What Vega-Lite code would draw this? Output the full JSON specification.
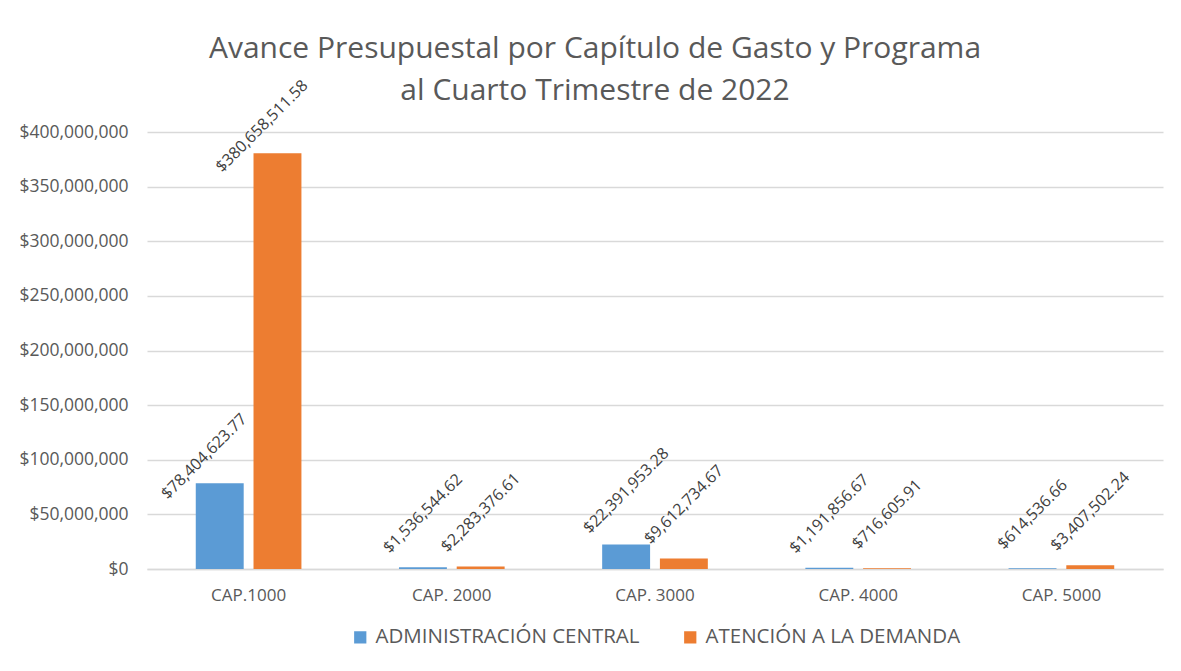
{
  "$schema": "https://vega.github.io/schema/vega-lite/v6.json",
  "width": 1016,
  "height": 437,
  "autosize": {"type": "none"},
  "padding": {"left": 147, "top": 132, "right": 18, "bottom": 102},
  "background": "white",
  "title": {
    "text": ["Avance Presupuestal por Capítulo de Gasto y Programa", "al Cuarto Trimestre de 2022"],
    "font": "Open Sans",
    "fontSize": 30,
    "fontWeight": "normal",
    "color": "#595959",
    "lineHeight": 42,
    "anchor": "middle",
    "dx": -60,
    "offset": -29
  },
  "data": {
    "values": [
      {"capitulo": "CAP.1000", "programa": "ADMINISTRACIÓN CENTRAL", "monto": 78404623.77},
      {"capitulo": "CAP.1000", "programa": "ATENCIÓN A LA DEMANDA", "monto": 380658511.58},
      {"capitulo": "CAP. 2000", "programa": "ADMINISTRACIÓN CENTRAL", "monto": 1536544.62},
      {"capitulo": "CAP. 2000", "programa": "ATENCIÓN A LA DEMANDA", "monto": 2283376.61},
      {"capitulo": "CAP. 3000", "programa": "ADMINISTRACIÓN CENTRAL", "monto": 22391953.28},
      {"capitulo": "CAP. 3000", "programa": "ATENCIÓN A LA DEMANDA", "monto": 9612734.67},
      {"capitulo": "CAP. 4000", "programa": "ADMINISTRACIÓN CENTRAL", "monto": 1191856.67},
      {"capitulo": "CAP. 4000", "programa": "ATENCIÓN A LA DEMANDA", "monto": 716605.91},
      {"capitulo": "CAP. 5000", "programa": "ADMINISTRACIÓN CENTRAL", "monto": 614536.66},
      {"capitulo": "CAP. 5000", "programa": "ATENCIÓN A LA DEMANDA", "monto": 3407502.24}
    ]
  },
  "encoding": {
    "x": {
      "field": "capitulo",
      "type": "nominal",
      "sort": null,
      "scale": {"paddingInner": 0.48, "paddingOuter": 0.24},
      "axis": {
        "title": null,
        "labelAngle": 0,
        "labelFont": "Open Sans",
        "labelFontSize": 17,
        "labelColor": "#595959",
        "labelPadding": 18,
        "ticks": false,
        "domain": true,
        "domainColor": "#D9D9D9",
        "domainWidth": 1.5
      }
    },
    "xOffset": {
      "field": "programa",
      "type": "nominal",
      "sort": null,
      "scale": {"paddingInner": 0.17}
    },
    "y": {
      "field": "monto",
      "type": "quantitative",
      "scale": {"domain": [0, 400000000], "nice": false},
      "axis": {
        "title": null,
        "format": "$,.0f",
        "values": [0, 50000000, 100000000, 150000000, 200000000, 250000000, 300000000, 350000000, 400000000],
        "labelFont": "Open Sans",
        "labelFontSize": 17.5,
        "labelColor": "#595959",
        "labelPadding": 19,
        "ticks": false,
        "domain": false,
        "grid": true,
        "gridColor": "#D9D9D9",
        "gridWidth": 1.5
      }
    }
  },
  "layer": [
    {
      "mark": {"type": "bar"},
      "encoding": {
        "color": {
          "field": "programa",
          "type": "nominal",
          "sort": null,
          "scale": {"range": ["#5B9BD5", "#ED7D31"]},
          "legend": {
            "title": null,
            "orient": "bottom",
            "direction": "horizontal",
            "symbolType": "square",
            "symbolSize": 150,
            "symbolStrokeWidth": 0,
            "labelFont": "Open Sans",
            "labelFontSize": 20.5,
            "labelColor": "#595959",
            "labelLimit": 0,
            "labelOffset": 5,
            "columnPadding": 40,
            "offset": 24
          }
        }
      }
    },
    {
      "mark": {
        "type": "text",
        "angle": 315,
        "align": "center",
        "baseline": "middle",
        "font": "Open Sans",
        "fontSize": 16,
        "color": "#404040",
        "dx": {"expr": "datum.monto > 50000000 ? 8 : 38"},
        "dy": {"expr": "datum.monto > 50000000 ? -30 : -38"}
      },
      "encoding": {
        "text": {"field": "monto", "type": "quantitative", "format": "$,.2f"}
      }
    }
  ],
  "config": {
    "view": {"stroke": null},
    "legend": {"layout": {"bottom": {"anchor": "middle"}}}
  }
}
